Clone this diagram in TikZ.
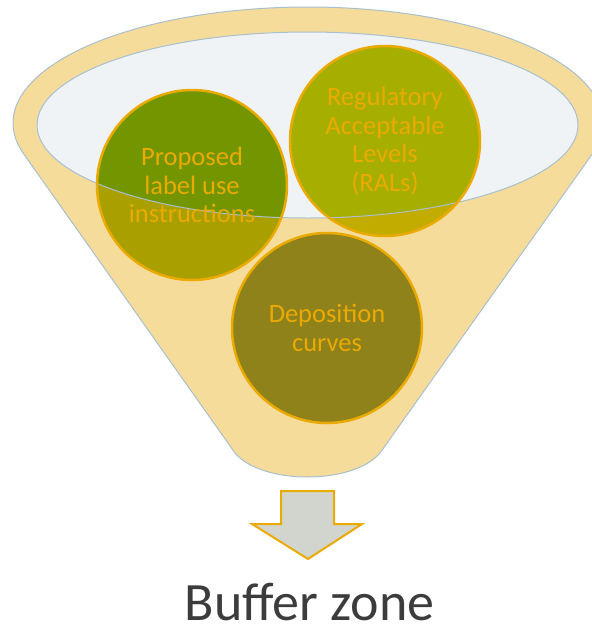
\documentclass[tikz,border=0pt]{standalone}
\usepackage{fontspec}
\setmainfont{Carlito}
\pgfdeclarelayer{background}
\pgfsetlayers{background,main}
\definecolor{funnelfill}{HTML}{F6DC9B}
\definecolor{innerfill}{HTML}{EFF3F5}
\definecolor{rimline}{HTML}{A9C0CE}
\definecolor{orangeline}{HTML}{EAAA00}
\definecolor{plabove}{HTML}{739600}
\definecolor{plbelow}{HTML}{A9A000}
\definecolor{ralabove}{HTML}{A6AE00}
\definecolor{ralbelow}{HTML}{C3AC00}
\definecolor{depfill}{HTML}{8F821A}
\definecolor{arrowfill}{HTML}{D2D5CD}
\definecolor{buffertext}{HTML}{3C3C3C}
\begin{document}
\begin{tikzpicture}[x=1pt,y=-1pt,
  bubble/.style={circle, minimum size=190pt, inner sep=0pt, draw=orangeline,
    line width=2.5pt, align=center, text=orangeline,
    font=\fontsize{26.5}{28.7}\selectfont},
  rim/.style={draw=rimline, line width=1pt},
  innerell/.style={x radius=270.5pt, y radius=93pt}]
\useasboundingbox (0,0) rectangle (592,630);
\node[bubble] (pl) at (192,185) {Proposed\\label use\\instructions};
\node[bubble] (ral) at (385,141) {Regulatory\\Acceptable\\Levels\\(RALs)};
\node[bubble] (dep) at (327,328) {Deposition\\curves};
\begin{pgfonlayer}{background}
  \filldraw[fill=funnelfill, rim, line join=round]
    plot[domain=-105.53:105.53, samples=150, variable=\t]
      ({308+295*sin(\t)},{123-116*cos(\t)})
    -- (380,453) .. controls (353,485) and (262,485) .. (235,453) -- cycle;
  \fill[innerfill] (307.5,125) ellipse[innerell];
  \fill[plbelow] (pl.center) circle[radius=95pt];
  \fill[ralbelow] (ral.center) circle[radius=95pt];
  \fill[depfill] (dep.center) circle[radius=95pt];
  \begin{scope}
    \clip (307.5,125) ellipse[innerell];
    \fill[plabove] (pl.center) circle[radius=95pt];
    \fill[ralabove] (ral.center) circle[radius=95pt];
  \end{scope}
  \draw[rim] (307.5,125) ellipse[innerell];
\end{pgfonlayer}
\draw[fill=arrowfill, draw=orangeline, line width=2pt, line join=miter]
  (281,491) -- (334,491) -- (334,524) -- (362,524) -- (308,559)
  -- (252,524) -- (281,524) -- cycle;
\node[anchor=base, text=buffertext, font=\fontsize{54}{60}\selectfont, inner sep=0pt]
  (bz) at (309.5,620) {Buffer zone};
\end{tikzpicture}
\end{document}
